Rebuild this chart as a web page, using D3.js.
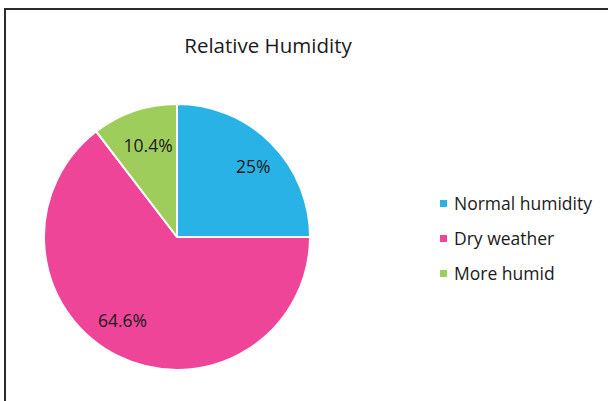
<!DOCTYPE html>
<html lang="en">
<head>
    <meta charset="UTF-8">
    <title>Relative Humidity</title>
    <script src="https://d3js.org/d3.v7.min.js"></script>
    <style>
        html, body{
            margin:0;
            background:#fff;
        }
        text{
            font-family: "Open Sans", "Noto Sans", sans-serif;
            fill:#1a1a1a;
        }
    </style>
</head>
<body>
<div id="chart"></div>
<script>
    // data
    var categories = ["Normal humidity", "Dry weather", "More humid"];
    var values = [25, 64.6, 10.4];
    var labels = ["25%", "64.6%", "10.4%"];
    var colors = ["#29b2e6", "#ee4599", "#9fcd5b"];

    var width = 608, height = 401;
    var cx = 177, cy = 237, radius = 133;

    var svg = d3.select("#chart").append("svg")
        .attr("width", width)
        .attr("height", height);

    // frame (cut off on right / bottom)
    svg.append("rect")
        .attr("x", 5)
        .attr("y", 9)
        .attr("width", 620)
        .attr("height", 420)
        .attr("fill", "none")
        .attr("stroke", "#2b2b2b")
        .attr("stroke-width", 2);

    svg.append("text")
        .attr("x", 268)
        .attr("y", 53)
        .attr("text-anchor", "middle")
        .style("font-size", "20.5px")
        .text("Relative Humidity");

    var pie = d3.pie().sort(null)(values);
    var arc = d3.arc().innerRadius(0).outerRadius(radius);

    var g = svg.append("g").attr("transform", "translate(" + cx + "," + cy + ")");

    g.selectAll("path.slice")
        .data(pie)
        .enter().append("path")
        .attr("class", "slice")
        .attr("d", arc)
        .attr("fill", function(d, i) { return colors[i]; })
        .attr("stroke", "#fff")
        .attr("stroke-width", 2)
        .attr("stroke-linejoin", "round");

    // label distance from centre (fraction of radius) and angle nudge (radians)
    var labelR = [0.78, 0.75, 0.72];
    var labelTurn = [0.04, 0.12, 0.02];
    g.selectAll("text.lbl")
        .data(pie)
        .enter().append("text")
        .attr("class", "lbl")
        .attr("transform", function(d, i) {
            var a = (d.startAngle + d.endAngle) / 2 + labelTurn[i];
            var r = radius * labelR[i];
            return "translate(" + (Math.sin(a) * r) + "," + (-Math.cos(a) * r) + ")";
        })
        .attr("text-anchor", "middle")
        .attr("dy", "0.35em")
        .style("font-size", "17.5px")
        .text(function(d, i) { return labels[i]; });

    // legend
    var legend = svg.append("g").attr("transform", "translate(440,200)");
    var rows = legend.selectAll("g")
        .data(categories)
        .enter().append("g")
        .attr("transform", function(d, i) { return "translate(0," + (i * 35) + ")"; });
    rows.append("rect")
        .attr("width", 7)
        .attr("height", 7)
        .attr("fill", function(d, i) { return colors[i]; });
    rows.append("text")
        .attr("x", 14)
        .attr("y", 10)
        .style("font-size", "17.5px")
        .text(function(d) { return d; });
</script>
</body>
</html>
